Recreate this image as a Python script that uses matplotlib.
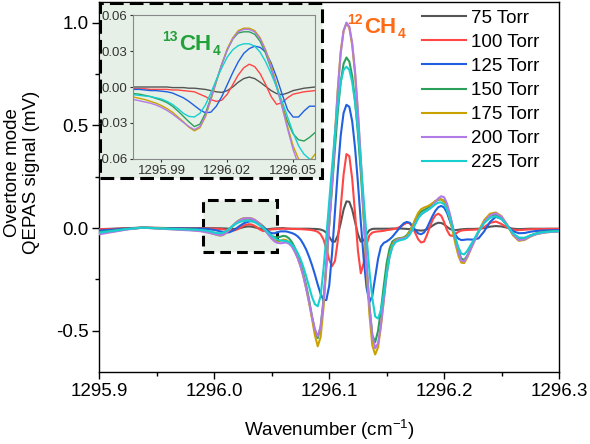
import numpy as np
import matplotlib
matplotlib.use("Agg")
import matplotlib.pyplot as plt
from matplotlib.patches import Rectangle

plt.rcParams['font.family'] = ['Liberation Sans', 'DejaVu Sans']
plt.rcParams['mathtext.fontset'] = 'custom'
plt.rcParams['mathtext.rm'] = 'Liberation Sans'
plt.rcParams['mathtext.it'] = 'Liberation Sans:italic'
plt.rcParams['mathtext.bf'] = 'Liberation Sans:bold'

# wavenumber sampling (cm-1): coarse baseline, fine through the lines, medium tail
wn = np.concatenate([
    [1295.900, 1295.9125, 1295.925, 1295.9375, 1295.950, 1295.9625, 1295.975],
    np.round(np.arange(1295.9775, 1296.22001, 0.0025), 4),
    np.round(np.arange(1296.225, 1296.30001, 0.005), 3),
])

labels = ['75 Torr', '100 Torr', '125 Torr', '150 Torr', '175 Torr', '200 Torr', '225 Torr']
colors = ['#555555', '#ff4545', '#1f5fe0', '#2ba05a', '#c9a200', '#b27ae6', '#17cfcf']

# signal (mV)
s75 = [-0.005, -0.003, 0.000, 0.002, 0.001, 0.000, 0.000,
       0, 0, 0, 0, 0, 0, 0, -0.0005, -0.0005, -0.0005, -0.001, -0.001,
       -0.0015, -0.002, -0.003, -0.004, -0.0045, -0.003, 0.000, 0.004, 0.007, 0.0083, 0.007,
       0.004, 0.0005, -0.003, -0.0055, -0.0064, -0.005, -0.003, -0.002, -0.001, -0.0005, 0.000,
       -0.002, -0.003, -0.003, -0.003, -0.003, -0.003, -0.003, -0.003, -0.003, -0.004, -0.004,
       -0.005, -0.007, -0.012, -0.022, -0.042, -0.065, -0.066, -0.035, 0.025, 0.090, 0.130,
       0.128, 0.090, 0.030, -0.030, -0.066, -0.060, -0.030, -0.010, -0.004, -0.003, -0.003,
       -0.003, -0.003, -0.003, -0.003, -0.002, -0.002, -0.002, -0.002, -0.003, -0.004, -0.005,
       -0.007, -0.009, -0.011, -0.012, -0.011, -0.006, 0.002, 0.012, 0.021, 0.026, 0.025,
       0.018, 0.006, -0.004, -0.009, -0.010, -0.008, -0.006, -0.005, -0.004,
       -0.004, -0.003, 0.000, 0.007, 0.010, 0.008, 0.002, -0.003, -0.005, -0.004, -0.003,
       -0.003, -0.003, -0.003, -0.003, -0.003]
s100 = [-0.006, -0.004, -0.001, 0.002, 0.001, -0.001, -0.0015,
        -0.0015, -0.0015, -0.0015, -0.002, -0.002, -0.002, -0.002, -0.0025, -0.0025, -0.003,
        -0.0035, -0.004, -0.006, -0.008, -0.0105, -0.012, -0.011, -0.006, 0.002, 0.010, 0.016,
        0.019, 0.017, 0.011, 0.002, -0.008, -0.0145, -0.013, -0.009, -0.006, -0.005, -0.004,
        -0.0035, -0.003,
        -0.003, -0.003, -0.004, -0.004, -0.005, -0.005, -0.006, -0.007, -0.008, -0.010, -0.013,
        -0.018, -0.030, -0.055, -0.100, -0.155, -0.185, -0.160, -0.060, 0.100, 0.260, 0.360,
        0.350, 0.240, 0.070, -0.110, -0.220, -0.170, -0.080, -0.035, -0.022, -0.018, -0.016,
        -0.015, -0.013, -0.010, -0.008, -0.006, -0.003, 0.002, 0.008, 0.018, 0.026, 0.024,
        0.005, -0.025, -0.055, -0.070, -0.066, -0.035, 0.005, 0.040, 0.062, 0.070, 0.060,
        0.030, -0.010, -0.035, -0.038, -0.028, -0.018, -0.012, -0.010, -0.009,
        -0.008, -0.006, 0.005, 0.025, 0.032, 0.020, 0.002, -0.008, -0.010, -0.008, -0.006,
        -0.005, -0.005, -0.004, -0.004, -0.004]
s125 = [-0.012, -0.007, -0.002, 0.002, 0.000, -0.001, -0.002,
        -0.002, -0.002, -0.0025, -0.003, -0.003, -0.0035, -0.004, -0.005, -0.007, -0.009,
        -0.012, -0.0155, -0.019, -0.0215, -0.021, -0.016, -0.008, 0.002, 0.012, 0.021, 0.028,
        0.032, 0.034, 0.033, 0.029, 0.020, 0.008, -0.006, -0.019, -0.025, -0.025, -0.020,
        -0.016, -0.016,
        -0.016, -0.020, -0.024, -0.030, -0.040, -0.055, -0.078, -0.105, -0.140, -0.180, -0.225,
        -0.275, -0.320, -0.350, -0.350, -0.280, -0.120, 0.080, 0.280, 0.450, 0.560, 0.600,
        0.590, 0.520, 0.390, 0.220, 0.030, -0.150, -0.290, -0.360, -0.330, -0.240, -0.150,
        -0.090, -0.072, -0.065, -0.055, -0.042, -0.025, -0.008, 0.010, 0.024, 0.030, 0.026,
        0.010, -0.010, -0.026, -0.030, -0.022, 0.000, 0.030, 0.060, 0.085, 0.102, 0.108,
        0.100, 0.075, 0.035, -0.005, -0.035, -0.052, -0.058, -0.057, -0.055,
        -0.056, -0.050, -0.015, 0.030, 0.055, 0.045, 0.012, -0.015, -0.025, -0.024, -0.018,
        -0.014, -0.012, -0.011, -0.010, -0.010]
s150 = [-0.020, -0.012, -0.004, 0.002, 0.000, -0.003, -0.005,
        -0.0055, -0.006, -0.007, -0.008, -0.0095, -0.011, -0.013, -0.016, -0.020, -0.0245,
        -0.029, -0.033, -0.031, -0.022, -0.009, 0.005, 0.019, 0.031, 0.040, 0.045, 0.046,
        0.046, 0.044, 0.038, 0.028, 0.015, 0.000, -0.015, -0.029, -0.039, -0.044, -0.045,
        -0.042, -0.038,
        -0.040, -0.050, -0.068, -0.095, -0.130, -0.170, -0.220, -0.280, -0.350, -0.430, -0.500,
        -0.535, -0.480, -0.350, -0.170, 0.020, 0.200, 0.390, 0.570, 0.710, 0.800, 0.830,
        0.810, 0.740, 0.620, 0.460, 0.270, 0.050, -0.180, -0.380, -0.520, -0.555, -0.500,
        -0.400, -0.280, -0.170, -0.100, -0.065, -0.055, -0.050, -0.048, -0.045, -0.035, -0.015,
        0.012, 0.040, 0.065, 0.080, 0.088, 0.095, 0.105, 0.118, 0.130, 0.138, 0.140,
        0.132, 0.105, 0.060, 0.005, -0.055, -0.110, -0.148, -0.155, -0.135,
        -0.075, -0.018, 0.032, 0.060, 0.066, 0.050, 0.012, -0.030, -0.052, -0.050, -0.036,
        -0.026, -0.020, -0.017, -0.015, -0.014]
s175 = [-0.025, -0.015, -0.005, 0.002, -0.001, -0.005, -0.008,
        -0.0085, -0.0095, -0.0105, -0.012, -0.0135, -0.0155, -0.018, -0.021, -0.025, -0.029,
        -0.0335, -0.0365, -0.034, -0.025, -0.011, 0.004, 0.019, 0.032, 0.041, 0.047, 0.049,
        0.049, 0.047, 0.041, 0.031, 0.018, 0.002, -0.015, -0.033, -0.049, -0.060, -0.066,
        -0.062, -0.056,
        -0.058, -0.068, -0.085, -0.112, -0.145, -0.185, -0.235, -0.295, -0.365, -0.440, -0.520,
        -0.575, -0.530, -0.390, -0.190, 0.020, 0.230, 0.460, 0.680, 0.860, 0.960, 0.995,
        0.975, 0.890, 0.750, 0.550, 0.320, 0.060, -0.200, -0.420, -0.570, -0.615, -0.580,
        -0.480, -0.350, -0.220, -0.130, -0.080, -0.060, -0.052, -0.050, -0.048, -0.040, -0.020,
        0.010, 0.045, 0.075, 0.092, 0.100, 0.105, 0.112, 0.122, 0.133, 0.140, 0.140,
        0.128, 0.095, 0.045, -0.015, -0.080, -0.135, -0.168, -0.170, -0.145,
        -0.080, -0.015, 0.040, 0.070, 0.076, 0.058, 0.015, -0.035, -0.062, -0.058, -0.042,
        -0.030, -0.024, -0.020, -0.018, -0.017]
s200 = [-0.030, -0.018, -0.006, 0.002, -0.002, -0.006, -0.010,
        -0.0105, -0.0115, -0.0125, -0.0135, -0.015, -0.017, -0.0195, -0.0225, -0.026, -0.0295,
        -0.033, -0.0355, -0.033, -0.024, -0.010, 0.005, 0.019, 0.031, 0.040, 0.046, 0.048,
        0.048, 0.046, 0.040, 0.030, 0.016, 0.000, -0.017, -0.035, -0.052, -0.065, -0.072,
        -0.074, -0.072,
        -0.070, -0.076, -0.090, -0.115, -0.145, -0.185, -0.235, -0.295, -0.360, -0.430, -0.490,
        -0.527, -0.480, -0.360, -0.180, 0.020, 0.220, 0.450, 0.670, 0.850, 0.960, 1.000,
        0.980, 0.900, 0.760, 0.570, 0.340, 0.080, -0.170, -0.380, -0.520, -0.585, -0.560,
        -0.470, -0.350, -0.230, -0.140, -0.090, -0.065, -0.055, -0.052, -0.050, -0.045, -0.030,
        -0.005, 0.025, 0.050, 0.066, 0.076, 0.085, 0.095, 0.110, 0.128, 0.145, 0.155,
        0.150, 0.120, 0.070, 0.010, -0.055, -0.115, -0.158, -0.162, -0.140,
        -0.080, -0.020, 0.030, 0.062, 0.072, 0.055, 0.015, -0.030, -0.058, -0.055, -0.040,
        -0.030, -0.024, -0.020, -0.018, -0.017]
s225 = [-0.022, -0.013, -0.004, 0.002, -0.001, -0.004, -0.006,
        -0.0065, -0.007, -0.0075, -0.008, -0.009, -0.010, -0.012, -0.0145, -0.018, -0.022,
        -0.0245, -0.025, -0.022, -0.015, -0.005, 0.006, 0.016, 0.025, 0.031, 0.0345, 0.036,
        0.036, 0.034, 0.029, 0.021, 0.011, 0.000, -0.012, -0.025, -0.038, -0.049, -0.056,
        -0.060, -0.062,
        -0.063, -0.068, -0.080, -0.097, -0.120, -0.150, -0.190, -0.235, -0.285, -0.335, -0.370,
        -0.380, -0.330, -0.200, -0.040, 0.130, 0.300, 0.460, 0.600, 0.710, 0.770, 0.785,
        0.770, 0.710, 0.610, 0.480, 0.320, 0.140, -0.040, -0.210, -0.340, -0.430, -0.440,
        -0.400, -0.320, -0.220, -0.140, -0.090, -0.070, -0.062, -0.058, -0.055, -0.048, -0.032,
        -0.008, 0.020, 0.048, 0.066, 0.077, 0.085, 0.094, 0.105, 0.116, 0.124, 0.125,
        0.116, 0.090, 0.050, 0.000, -0.050, -0.095, -0.124, -0.128, -0.112,
        -0.065, -0.015, 0.025, 0.050, 0.057, 0.044, 0.012, -0.025, -0.046, -0.047, -0.036,
        -0.027, -0.021, -0.018, -0.016, -0.015]

series = [s75, s100, s125, s150, s175, s200, s225]
for s in series:
    assert len(s) == len(wn), (len(s), len(wn))

green_bg = '#e6f0e6'


def isotope_label(axis, x, y, mass, color):
    # mass number as superscript, CH bold, 4 as subscript
    kw = dict(xycoords='data', textcoords='offset points', color=color,
              fontweight='bold', ha='left', va='baseline')
    axis.annotate(mass, (x, y), xytext=(0, 6), fontsize=10, **kw)
    axis.annotate('CH', (x, y), xytext=(12, 0), fontsize=16, **kw)
    axis.annotate('4', (x, y), xytext=(36, -3.5), fontsize=10, **kw)


fig = plt.figure(figsize=(5.9, 4.44), dpi=100)
ax = fig.add_axes([0.1686, 0.1622, 0.7788, 0.8333])

for s, c, lab in zip(series, colors, labels):
    ax.plot(wn, s, color=c, lw=1.5, label=lab, zorder=3)

# zoom marker on the 13CH4 line
ax.add_patch(Rectangle((1295.990, -0.115), 0.0645, 0.251, facecolor=green_bg,
                       edgecolor='black', lw=2.2, linestyle=(0, (3.5, 2)), zorder=1))

ax.set_xlim(1295.9, 1296.3)
ax.set_ylim(-0.7, 1.1)
ax.set_xticks([1295.9, 1296.0, 1296.1, 1296.2, 1296.3])
ax.set_xticklabels(['1295.9', '1296.0', '1296.1', '1296.2', '1296.3'])
ax.set_xticks([1295.95, 1296.05, 1296.15, 1296.25], minor=True)
ax.set_yticks([-0.5, 0.0, 0.5, 1.0])
ax.set_yticklabels(['-0.5', '0.0', '0.5', '1.0'])
ax.set_yticks([-0.25, 0.25, 0.75], minor=True)
ax.tick_params(which='major', direction='out', length=5, width=1, labelsize=13.5, pad=3)
ax.tick_params(which='minor', direction='out', length=3, width=1)
for sp in ax.spines.values():
    sp.set_linewidth(1.0)

ax.set_xlabel('Wavenumber (cm$^{-1}$)', fontsize=13.5, labelpad=13)
fig.text(0.037, 0.612, 'Overtone mode\nQEPAS signal (mV)', rotation=90, ha='center',
         va='center', multialignment='center', fontsize=13.5)

isotope_label(ax, 1296.116, 0.95, '12', '#ff6a14')

ax.legend(loc='upper left', bbox_to_anchor=(0.701, 0.979), frameon=False, fontsize=13.5,
          handlelength=2.35, handletextpad=0.3, labelspacing=0.37, borderpad=0,
          borderaxespad=0)

# inset frame
fig.add_artist(Rectangle((0.1695, 0.599), 0.3763, 0.394, transform=fig.transFigure,
                         facecolor=green_bg, edgecolor='black', lw=2.2,
                         linestyle=(0, (4.5, 2)), zorder=5))

ins = fig.add_axes([0.2254, 0.6419, 0.3085, 0.3243], zorder=6)
ins.set_facecolor(green_bg)
for s, c in zip(series, colors):
    ins.plot(wn, s, color=c, lw=1.0)
ins.set_xlim(1295.977, 1296.060)
ins.set_ylim(-0.06, 0.06)
ins.set_xticks([1295.99, 1296.02, 1296.05])
ins.set_xticklabels(['1295.99', '1296.02', '1296.05'])
ins.set_yticks([-0.06, -0.03, 0.0, 0.03, 0.06])
ins.set_yticklabels(['-0.06', '-0.03', '0.00', '0.03', '0.06'])
ins.tick_params(direction='out', length=2.5, width=0.8, labelsize=9.5, pad=1.5,
                colors='#333333')
for sp in ins.spines.values():
    sp.set_color('#888888')
    sp.set_linewidth(0.8)
isotope_label(ins, 1295.9905, 0.031, '13', '#22a03a')

fig.savefig('out.png', dpi=100)
